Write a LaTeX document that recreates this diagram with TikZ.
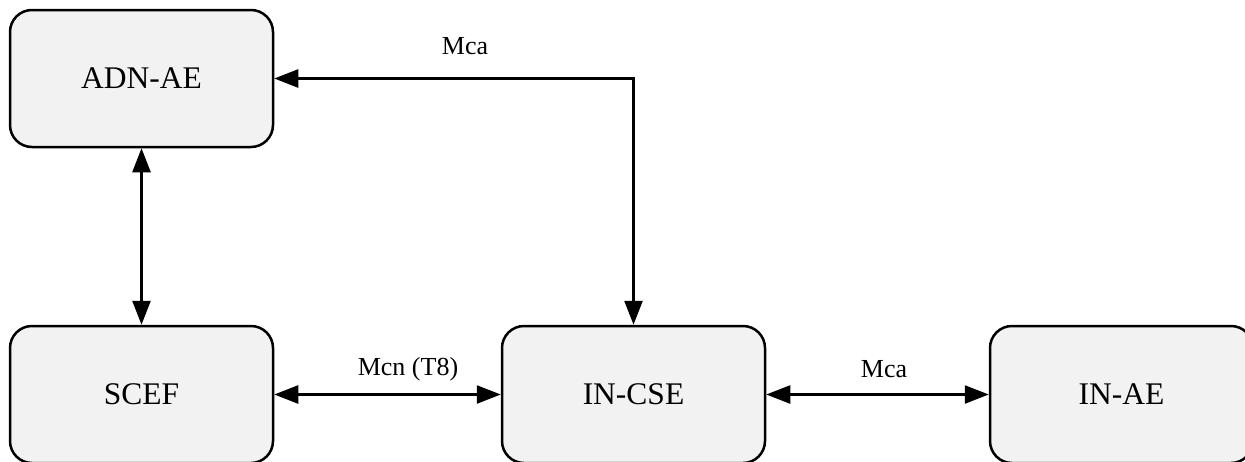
\documentclass[tikz,border=0pt]{standalone}
\usepackage{fontspec}
\setmainfont{Liberation Serif}
\usepackage{tikz}
\usetikzlibrary{arrows.meta}
\definecolor{boxgray}{HTML}{F2F2F2}

\tikzset{
  ent/.style={draw, line width=2.5pt, fill=boxgray, rounded corners=22pt,
    minimum width=263pt, minimum height=137pt, inner sep=0pt,
    font=\fontsize{31.5}{36}\selectfont},
  lbl/.style={inner sep=0pt, font=\fontsize{26}{30}\selectfont},
  link/.style={line width=2.5pt, {Triangle[length=24pt,width=18pt]}-{Triangle[length=24pt,width=18pt]}}
}

\begin{document}
\begin{tikzpicture}[x=1pt, y=-1pt]
\useasboundingbox (0,0) rectangle (1245,461);
\clip (0,0) rectangle (1245,461);
\node[ent] (adn) at (141.5,78.5) {ADN-AE};
\node[ent] (scef) at (141.5,394.5) {SCEF};
\node[ent] (incse) at (633.5,394.5) {IN-CSE};
\node[ent] (inae) at (1121.5,394.5) {IN-AE};
% reference points
\node[lbl] (mcatop) at (465,46) {Mca};
\node[lbl] (mcn) at (408,369) {Mcn (T8)};
\node[lbl] (mcaright) at (884,369) {Mca};
\draw[link] (adn) -- (scef);
\draw[link] (adn.east) -| (incse.north);
\draw[link] (scef) -- (incse);
\draw[link] (incse) -- (inae);
\end{tikzpicture}
\end{document}
